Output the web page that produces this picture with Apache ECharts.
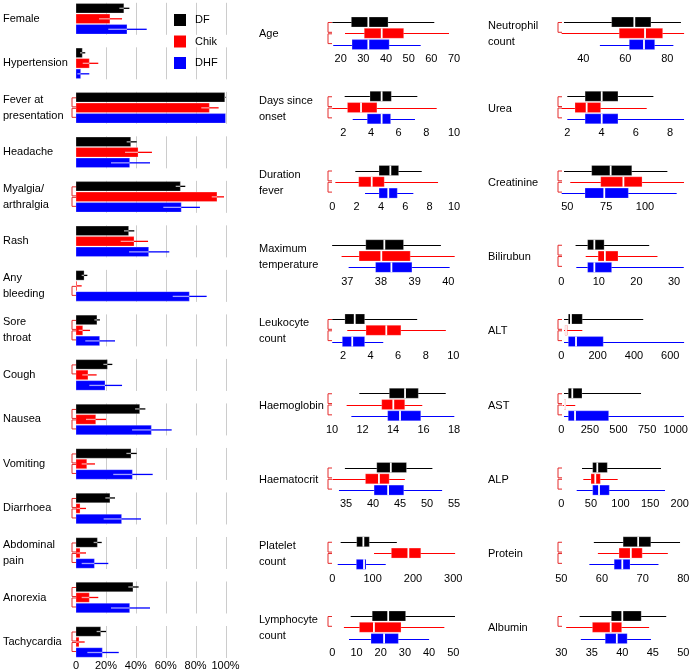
<!DOCTYPE html>
<html><head><meta charset="utf-8">
<script src="https://cdn.jsdelivr.net/npm/echarts@6/dist/echarts.min.js"></script>
<style>html,body{margin:0;padding:0;background:#fff}#c{width:696px;height:672px}</style>
</head><body><div id="c"></div>
<script>
// ---------------- DATA ----------------
const groupNames = ['DF', 'Chik', 'DHF'];

// Left panel: proportions (%) with confidence limits
const barCats = ['Female', 'Hypertension', 'Fever at\npresentation', 'Headache', 'Myalgia/\narthralgia', 'Rash',
  'Any\nbleeding', 'Sore\nthroat', 'Cough', 'Nausea', 'Vomiting', 'Diarrhoea', 'Abdominal\npain', 'Anorexia', 'Tachycardia'];
const dfPct   = [32, 4.2, 99.5, 36.6, 69.8, 35.2, 5.4, 14, 21, 42.6, 36.8, 22.7, 14.3, 38.1, 16.5];
const dfLo    = [29, 2.7, 99, 33.9, 66.7, 32.1, 3.8, 12.3, 18.3, 39.5, 33.7, 19.6, 11.8, 35, 13.8];
const dfHi    = [35.7, 6.2, 100, 40.6, 73.1, 39, 7.6, 16, 24.3, 46.4, 40.6, 26.1, 17.2, 41.9, 20.1];
const chikPct = [22.7, 8.9, 89.2, 41.5, 94.3, 38.8, 0.6, 4.5, 8, 13.2, 7.2, 2.7, 2.7, 8.9, 2];
const chikLo  = [15.4, 4.5, 83.8, 32.8, 90.8, 29.9, 0, 1.8, 4.2, 6.7, 3.8, 0.4, 0.4, 3.8, 0];
const chikHi  = [30.8, 14.9, 95.4, 50.8, 99, 48.2, 3.8, 9.4, 13.8, 20.1, 12.7, 6.7, 6.7, 14.9, 5.8];
const dhfPct  = [34.1, 3.1, 100, 35.9, 70.4, 48.6, 75.8, 15.8, 19.4, 50.4, 37.7, 30.5, 12.3, 35.9, 17.6];
const dhfLo   = [21.6, 0.9, 100, 23.4, 58.4, 35.5, 64.7, 6.2, 8.9, 37.5, 24.9, 18.5, 3.8, 23.4, 7.6];
const dhfHi   = [47.3, 8.9, 100, 49.5, 82.9, 62.4, 87.4, 26.1, 30.8, 64, 51.3, 43.5, 21.6, 49.5, 28.6];
const barSigDFChik  = [0,0,1,0,1,0,0,1,1,1,1,1,1,1,1];
const barSigChikDHF = [0,0,1,0,1,0,1,1,0,1,1,1,1,1,1];
const barTicks = [0, 20, 40, 60, 80, 100];

// Box panels: [whisker low, Q1, median, Q3, whisker high]
const boxLabels = ['Age', 'Days since\nonset', 'Duration\nfever', 'Maximum\ntemperature', 'Leukocyte\ncount',
  'Haemoglobin', 'Haematocrit', 'Platelet\ncount', 'Lymphocyte\ncount',
  'Neutrophil\ncount', 'Urea', 'Creatinine', 'Bilirubun', 'ALT', 'AST', 'ALP', 'Protein', 'Albumin'];
const boxDF = [
  [16.3, 24.7, 32.2, 40.9, 61.3], [2.1, 3.93, 4.77, 5.47, 7.35], [1.89, 3.84, 4.77, 5.45, 7.35],
  [36.55, 37.55, 38.1, 38.67, 39.78], [1.22, 2.14, 2.85, 3.57, 7.38], [11.79, 13.76, 14.79, 15.66, 17.46],
  [34.8, 40.7, 43.3, 46.2, 51.0], [20.7, 60.5, 77, 91.8, 160], [7.6, 16.5, 23.1, 30.3, 50.7],
  [30.8, 53.5, 64.3, 72.2, 86.5], [2.0, 3.04, 4.01, 4.96, 7.03], [47.9, 65.7, 77.9, 91.5, 114.4],
  [3.8, 7.0, 8.8, 11.4, 23.4], [15, 38.7, 53, 115.7, 451], [23.6, 61, 96, 181, 697],
  [35, 53, 60.8, 77.7, 168.4], [58.0, 65.2, 68.9, 72.0, 79.2], [33.0, 38.2, 40.0, 43.1, 47.2]];
const boxChik = [
  [21.9, 30.4, 38.1, 47.8, 67.8], [1.2, 2.3, 3.28, 4.43, 8.75], [0.25, 2.17, 3.24, 4.27, 8.69],
  [36.83, 37.35, 38.01, 38.87, 40.19], [2.31, 3.67, 5.14, 6.2, 9.46], [10.96, 13.26, 14.02, 14.77, 15.92],
  [32.5, 38.6, 41.1, 43.0, 45.9], [103.5, 146.4, 188.6, 219.4, 304.5], [4.8, 11.2, 17.2, 28.4, 46.3],
  [29.7, 57.1, 69.4, 77.8, 88.0], [1.67, 2.45, 3.13, 3.95, 6.64], [51.9, 71.5, 86.1, 98.1, 125.1],
  [6.5, 9.8, 11.6, 15.1, 25.6], [15, 20, 26, 33, 115.7], [12, 23.6, 32, 41, 122],
  [37.2, 50.2, 57.4, 65.9, 95.3], [59.0, 64.2, 67.1, 69.9, 76.2], [30.8, 35.1, 38.1, 39.9, 44.4]];
const boxDHF = [
  [16.7, 25, 32.2, 41.4, 55.3], [2.68, 3.73, 4.77, 5.42, 7.18], [2.69, 3.84, 4.6, 5.34, 6.66],
  [37.04, 37.84, 38.31, 38.92, 40.04], [1.22, 1.95, 2.67, 3.57, 4.92], [11.27, 13.65, 14.46, 15.82, 18.02],
  [33.7, 40.2, 42.8, 45.7, 52.8], [13.4, 59.6, 78.7, 83.6, 132.5], [6.9, 16.0, 21.4, 27.3, 40.0],
  [47.9, 61.9, 68.9, 74.0, 82.9], [2.0, 3.04, 4.01, 4.96, 8.82], [46.4, 61.4, 73.8, 89.3, 120.4],
  [4.0, 7.0, 8.8, 13.4, 32.6], [15, 38.7, 81, 231, 676], [23.6, 61, 120, 414, 1072],
  [26, 53, 63.7, 81.1, 175.2], [56.9, 63.0, 65.0, 66.9, 73.9], [33.2, 37.2, 39.1, 40.8, 44.7]];
const boxAxisMin  = [20, 2, 0, 37, 2, 10, 35, 0, 0, 40, 2, 50, 0, 0, 0, 0, 50, 30];
const boxAxisMax  = [70, 10, 10, 40, 10, 18, 55, 300, 50, 80, 8, 100, 30, 600, 1000, 200, 80, 50];
const boxAxisStep = [10, 2, 2, 1, 2, 2, 5, 100, 10, 20, 2, 25, 10, 200, 250, 50, 10, 5];
const boxSigDFChik  = [1,1,1,0,1,1,1,1,1, 1,1,1,1,1,1,1,1,1];
const boxSigChikDHF = [1,1,1,0,1,1,1,1,0, 0,1,1,1,1,1,1,1,0];

// ---------------- LAYOUT / STYLE ----------------
const FONT = '"Liberation Sans", Arial, Helvetica, sans-serif';
const COLORS = ['#000000', '#ff0000', '#0000ff'];
const LIGHT = ['#a8a8a8', '#ff9c9c', '#a0a0ff'];
const BRACKET_COLOR = '#e42a2a';
const BAR_LAYOUT = { left: 76, width: 149.5, top: 18.8, height: 623.2 };
const BAR_ROW_STEP = 10.5, BAR_H = 9.5;
const PANEL_TOP0 = 22, PANEL_STEP = 74.25, BOX_ROW_STEP = 11.3, BOX_H = 10;
const COL_LABEL_X = [259, 488];
const BRACKET_X = [72, 328, 558];
// pixel positions of first/last axis tick for each box panel
const boxTickPx = [[340.7, 454], [343.3, 454], [332.3, 454], [347.3, 448.3], [343, 453.3], [332, 454],
  [346, 454], [332.3, 453.3], [332.3, 453.3],
  [583.3, 667.3], [567.3, 670], [567.3, 645], [561.3, 674], [561.3, 670.3], [561.3, 675.7],
  [561.3, 679.7], [561.3, 683.3], [561.3, 683.3]];

function bracketShapes(x, yA, yB, yC, f1, f2) {
  const out = [];
  const mk = (y1, y2) => ({ type: 'polyline', silent: true,
    shape: { points: [[x + 4, y1], [x, y1], [x, y2], [x + 4, y2]] },
    style: { stroke: BRACKET_COLOR, lineWidth: 1, fill: null } });
  if (f1) out.push(mk(yA + 0.5, yB - 1));
  if (f2) out.push(mk(yB + 0.5, yC - 1));
  return out;
}

const grids = [], xAxes = [], yAxes = [], series = [], graphics = [];

// ---- Left bar panel ----
grids.push({ left: BAR_LAYOUT.left, width: BAR_LAYOUT.width, top: BAR_LAYOUT.top, height: BAR_LAYOUT.height });
xAxes.push({ gridIndex: 0, type: 'value', min: barTicks[0], max: barTicks[barTicks.length - 1], interval: 20,
  axisLine: { show: false }, axisTick: { show: false }, splitLine: { show: false },
  axisLabel: { margin: 18, fontSize: 11, color: '#000', fontFamily: FONT,
    formatter: v => v === 0 ? '0' : v + '%' } });
yAxes.push({ gridIndex: 0, type: 'category', data: barCats, inverse: true, boundaryGap: false,
  axisLine: { show: false }, axisTick: { show: false }, splitLine: { show: false },
  axisLabel: { align: 'left', margin: 73, fontSize: 11, lineHeight: 16, color: '#000', fontFamily: FONT } });

// gridline segments per group
series.push({ type: 'custom', xAxisIndex: 0, yAxisIndex: 0, z: 1, silent: true,
  data: barCats.map((c, i) => [0, i]),
  renderItem: (params, api) => {
    const i = api.value(1);
    const yc = api.coord([0, i])[1];
    const ch = [];
    barTicks.slice(1).forEach(t => {
      const x = Math.round(api.coord([t, i])[0]) + 0.5;
      ch.push({ type: 'line', shape: { x1: x, y1: yc - 16, x2: x, y2: yc + 16 },
        style: { stroke: '#cccccc', lineWidth: 1 } });
    });
    return { type: 'group', children: ch };
  } });

const barSets = [[dfPct, dfLo, dfHi], [chikPct, chikLo, chikHi], [dhfPct, dhfLo, dhfHi]];
barSets.forEach((set, g) => {
  series.push({ type: 'custom', name: groupNames[g], xAxisIndex: 0, yAxisIndex: 0, z: 2,
    itemStyle: { color: COLORS[g] },
    encode: { x: [0, 2, 3], y: 1 },
    data: barCats.map((c, i) => [set[0][i], i, set[1][i], set[2][i]]),
    renderItem: (params, api) => {
      const v = api.value(0), i = api.value(1), lo = api.value(2), hi = api.value(3);
      const p0 = api.coord([0, i]);
      const xv = api.coord([v, i])[0], xl = api.coord([lo, i])[0], xh = api.coord([hi, i])[0];
      const yc = p0[1] + (g - 1) * BAR_ROW_STEP;
      const ch = [{ type: 'rect', shape: { x: p0[0], y: yc - BAR_H / 2, width: Math.max(xv - p0[0], 0.8), height: BAR_H },
        style: { fill: COLORS[g], stroke: 'rgba(255,255,255,0.5)', lineWidth: 0.5 } }];
      if (xl < xv) ch.push({ type: 'line', shape: { x1: xl, y1: yc, x2: Math.min(xh, xv), y2: yc },
        style: { stroke: LIGHT[g], lineWidth: 1.3 } });
      if (xh > xv) ch.push({ type: 'line', shape: { x1: Math.max(xl, xv), y1: yc, x2: xh, y2: yc },
        style: { stroke: COLORS[g], lineWidth: 1.3 } });
      return { type: 'group', children: ch };
    } });
});

// brackets left panel
series.push({ type: 'custom', xAxisIndex: 0, yAxisIndex: 0, z: 3, silent: true,
  data: barCats.map((c, i) => [0, i, barSigDFChik[i], barSigChikDHF[i]]),
  renderItem: (params, api) => {
    const i = api.value(1);
    const yc = api.coord([0, i])[1];
    return { type: 'group', children: bracketShapes(BRACKET_X[0], yc - BAR_ROW_STEP, yc, yc + BAR_ROW_STEP,
      api.value(2), api.value(3)) };
  } });

// ---- Box panels ----
boxLabels.forEach((lab, k) => {
  const col = k < 9 ? 0 : 1, p = k % 9;
  const c0 = PANEL_TOP0 + p * PANEL_STEP;
  const gi = grids.length;
  grids.push({ left: boxTickPx[k][0], width: boxTickPx[k][1] - boxTickPx[k][0],
    top: c0 - BOX_ROW_STEP / 2, height: 3 * BOX_ROW_STEP });
  xAxes.push({ gridIndex: gi, type: 'value', min: boxAxisMin[k], max: boxAxisMax[k], interval: boxAxisStep[k],
    axisLine: { show: false }, axisTick: { show: false }, splitLine: { show: false },
    axisLabel: { margin: 3, fontSize: 11, color: '#000', fontFamily: FONT, formatter: v => String(v) } });
  yAxes.push({ gridIndex: gi, type: 'value', min: -0.5, max: 2.5, inverse: true, show: false });
  const rows = [boxDF[k], boxChik[k], boxDHF[k]];
  series.push({ type: 'custom', xAxisIndex: gi, yAxisIndex: gi, z: 2, silent: true,
    encode: { x: [1, 2, 3, 4, 5], y: 0 },
    data: rows.map((r, g) => [g].concat(r)),
    renderItem: (params, api) => {
      const g = api.value(0);
      const yc = api.coord([api.value(3), g])[1];
      const xs = [1, 2, 3, 4, 5].map(d => api.coord([api.value(d), g])[0]);
      const yl = Math.round(yc) + 0.5;
      return { type: 'group', children: [
        { type: 'line', shape: { x1: xs[0], y1: yl, x2: xs[4], y2: yl }, style: { stroke: COLORS[g], lineWidth: 1 } },
        { type: 'rect', shape: { x: xs[1], y: yc - BOX_H / 2, width: xs[3] - xs[1], height: BOX_H },
          style: { fill: COLORS[g], stroke: 'rgba(255,255,255,0.4)', lineWidth: 0.6 } },
        { type: 'line', shape: { x1: xs[2], y1: yc - BOX_H / 2, x2: xs[2], y2: yc + BOX_H / 2 },
          style: { stroke: '#ffffff', lineWidth: 1.8 } }
      ] };
    } });
  series.push({ type: 'custom', xAxisIndex: gi, yAxisIndex: gi, z: 3, silent: true,
    data: [[boxAxisMin[k], 0, boxSigDFChik[k], boxSigChikDHF[k]]],
    renderItem: (params, api) => {
      const ys = [0, 1, 2].map(r => api.coord([api.value(0), r])[1]);
      return { type: 'group', children: bracketShapes(BRACKET_X[col + 1], ys[0], ys[1], ys[2],
        api.value(2), api.value(3)) };
    } });
  graphics.push({ x: COL_LABEL_X[col], y: c0 + BOX_ROW_STEP + 1,
    style: { text: lab, font: '11px ' + FONT, fill: '#000', verticalAlign: 'middle', textVerticalAlign: 'middle', lineHeight: 16 } });
});

const chart = echarts.init(document.getElementById('c'), null, { renderer: 'canvas' });
chart.setOption({
  animation: false,
  backgroundColor: '#ffffff',
  textStyle: { fontFamily: FONT },
  legend: { data: groupNames, orient: 'vertical', left: 174, top: 14, padding: 0, itemGap: 9.5,
    itemWidth: 12, itemHeight: 12, icon: 'rect', selectedMode: false,
    textStyle: { fontSize: 11, color: '#000', fontFamily: FONT, padding: [0, 0, 0, 4] } },
  grid: grids, xAxis: xAxes, yAxis: yAxes, series: series,
  graphic: graphics.map(g => ({ type: 'text', silent: true, x: g.x, y: g.y, style: g.style }))
});
</script></body></html>
